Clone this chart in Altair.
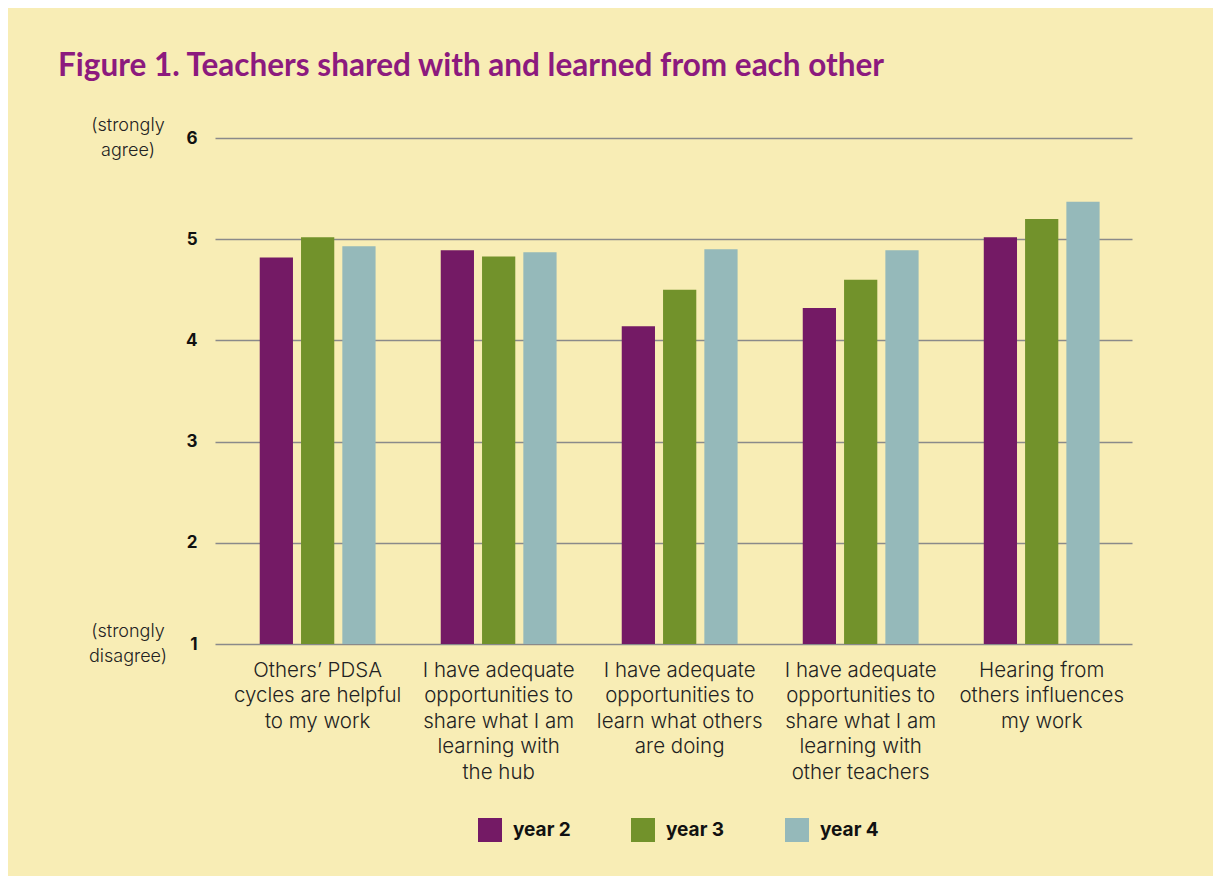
import altair as alt
import pandas as pd

categories = [
    "Others’ PDSA|cycles are helpful|to my work",
    "I have adequate|opportunities to|share what I am|learning with|the hub",
    "I have adequate|opportunities to|learn what others|are doing",
    "I have adequate|opportunities to|share what I am|learning with|other teachers",
    "Hearing from|others influences|my work",
]
years = ["year 2", "year 3", "year 4"]
year2 = [4.82, 4.89, 4.14, 4.32, 5.02]
year3 = [5.02, 4.83, 4.50, 4.60, 5.20]
year4 = [4.93, 4.87, 4.90, 4.89, 5.37]
colors = ["#741A65", "#72922B", "#95B9BA"]

ann_values = [6, 1]
ann_text = ["(strongly\nagree)", "(strongly\ndisagree)"]

rows = []
for yr, vals in zip(years, [year2, year3, year4]):
    for c, v in zip(categories, vals):
        rows.append({"category": c, "year": yr, "value": v})
df = pd.DataFrame(rows)
ann = pd.DataFrame({"v": ann_values, "t": ann_text})

BG = "#F8EDB5"
FONT = "Inter"

yscale = alt.Scale(domain=[1, 6], nice=False, zero=False)

bars = alt.Chart(df).mark_bar().encode(
    x=alt.X(
        "category:N",
        sort=categories,
        title=None,
        scale=alt.Scale(paddingInner=0.36, paddingOuter=0.213, align=0.58),
        axis=alt.Axis(
            labelAngle=0,
            domain=False,
            ticks=False,
            labelExpr="split(datum.label, '|')",
            labelFont=FONT,
            labelFontWeight=300,
            labelFontSize=20.5,
            labelLineHeight=25.5,
            labelColor="#222222",
            labelPadding=16,
            labelBaseline="top",
            labelLimit=300,
        ),
    ),
    xOffset=alt.XOffset(
        "year:N",
        sort=years,
        scale=alt.Scale(paddingInner=0.195, paddingOuter=0),
    ),
    y=alt.Y(
        "value:Q",
        scale=yscale,
        title=None,
        axis=alt.Axis(
            values=[1, 2, 3, 4, 5, 6],
            format="d",
            domain=False,
            ticks=False,
            grid=True,
            gridColor="#8a8a8a",
            gridWidth=1.6,
            labelFont=FONT,
            labelFontWeight="bold",
            labelFontSize=17,
            labelColor="#111111",
            labelPadding=18,
        ),
    ),
    y2=alt.datum(1),
    color=alt.Color(
        "year:N",
        sort=years,
        scale=alt.Scale(domain=years, range=colors),
        legend=alt.Legend(
            title=None,
            orient="none",
            direction="horizontal",
            legendX=263,
            legendY=680,
            symbolType="square",
            symbolSize=576,
            symbolStrokeWidth=0,
            symbolOpacity=1,
            labelFont=FONT,
            labelFontWeight="bold",
            labelFontSize=19,
            labelColor="#111111",
            labelOffset=11,
            columnPadding=60,
            padding=0,
        ),
    ),
)

notes = alt.Chart(ann).mark_text(
    align="center",
    baseline="middle",
    lineBreak="\n",
    lineHeight=25,
    fontSize=18,
    font=FONT,
    fontWeight=300,
    color="#222222",
    dy=-12.5,
).encode(
    x=alt.value(-87),
    y=alt.Y("v:Q", scale=yscale),
    text="t:N",
)

chart = (
    alt.layer(bars, notes)
    .properties(
        width=917,
        height=506,
        background=BG,
        autosize=alt.AutoSizeParams(type="none"),
        padding={"left": 207, "top": 130, "right": 81, "bottom": 232},
        title=alt.TitleParams(
            "Figure 1. Teachers shared with and learned from each other",
            anchor="start",
            frame="group",
            font="Lato",
            fontSize=31.5,
            fontWeight="bold",
            color="#8C1A7E",
            baseline="alphabetic",
            offset=0,
            dx=-157,
            dy=-9,
        ),
    )
    .configure_view(stroke=None)
)

chart.save("out.html", embed_options={"renderer": "svg", "actions": False})
